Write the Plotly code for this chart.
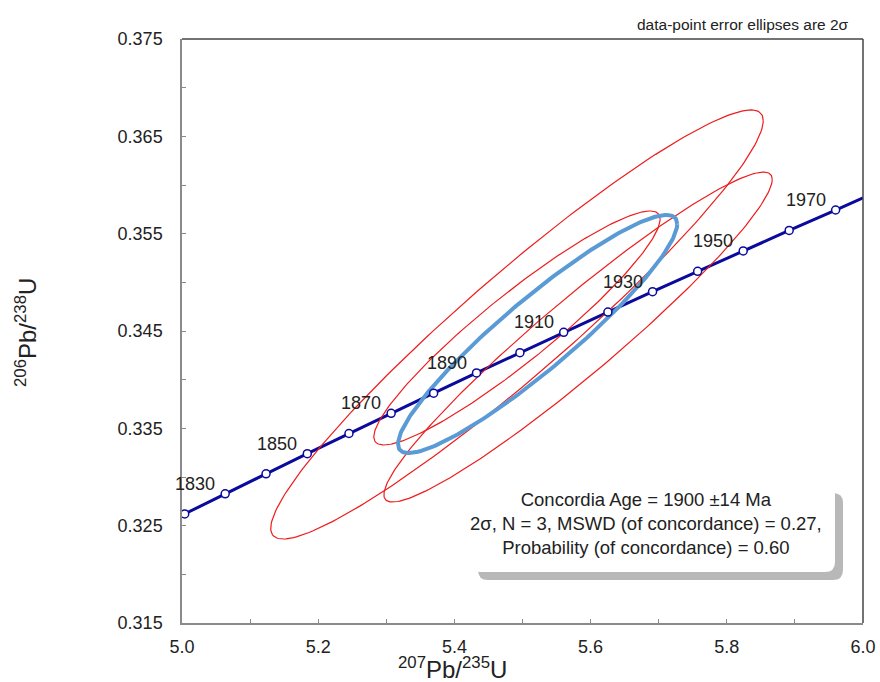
import numpy as np
import plotly.graph_objects as go

# ---------------- data ----------------
# Concordia curve points (ages in Ma)
ages = [1820, 1830, 1840, 1850, 1860, 1870, 1880, 1890, 1900, 1910,
        1920, 1930, 1940, 1950, 1960, 1970]
conc_x = [5.0040, 5.0634, 5.1234, 5.1840, 5.2452, 5.3071, 5.3695, 5.4325,
          5.4962, 5.5605, 5.6254, 5.6910, 5.7572, 5.8241, 5.8916, 5.9598]
conc_y = [0.32621, 0.32827, 0.33033, 0.33240, 0.33447, 0.33654, 0.33861, 0.34069,
          0.34277, 0.34486, 0.34695, 0.34904, 0.35113, 0.35323, 0.35533, 0.35743]
# curve ends at the axis edges
line_x = [5.0] + conc_x + [6.0]
line_y = [0.32607] + conc_y + [0.35867]

label_ages = [1830, 1850, 1870, 1890, 1910, 1930, 1950, 1970]

# data-point error ellipses (2 sigma): centre, x half-extent, y half-extent, correlation
ell_cx = [5.4919, 5.5816, 5.4919]
ell_cy = [0.34567, 0.34438, 0.34531]
ell_ax = [0.3616, 0.2851, 0.2102]
ell_ay = [0.02204, 0.01695, 0.01202]
ell_rho = [0.950, 0.955, 0.930]

# concordia age ellipse
age_cx, age_cy, age_ax, age_ay, age_rho = 5.5222, 0.34469, 0.2050, 0.01223, 0.924

x_range = [5.0, 6.0]
y_range = [0.315, 0.375]

box_lines = ["Concordia Age = 1900 \u00b114 Ma",
             "2\u03c3, N = 3, MSWD (of concordance) = 0.27,",
             "Probability (of concordance) = 0.60"]
note = "data-point error ellipses are 2\u03c3"

FONT = "Liberation Sans, Arial, sans-serif"
TXT = "#222222"


def ellipse(cx, cy, ax, ay, rho, n=240):
    t = np.linspace(0, 2 * np.pi, n)
    x = cx + ax * np.cos(t)
    y = cy + ay * (rho * np.cos(t) + np.sqrt(1 - rho ** 2) * np.sin(t))
    return x, y


fig = go.Figure()

# concordia line
fig.add_trace(go.Scatter(x=line_x, y=line_y, mode="lines",
                         line=dict(color="#0a0a9c", width=3),
                         hoverinfo="skip", showlegend=False))

for i in range(len(ell_cx)):
    ex, ey = ellipse(ell_cx[i], ell_cy[i], ell_ax[i], ell_ay[i], ell_rho[i])
    fig.add_trace(go.Scatter(x=ex, y=ey, mode="lines",
                             line=dict(color="#ee1c1c", width=1.2),
                             hoverinfo="skip", showlegend=False))

ex, ey = ellipse(age_cx, age_cy, age_ax, age_ay, age_rho)
fig.add_trace(go.Scatter(x=ex, y=ey, mode="lines",
                         line=dict(color="#5b9bd5", width=4),
                         hoverinfo="skip", showlegend=False))

# age markers
fig.add_trace(go.Scatter(x=conc_x, y=conc_y, mode="markers", cliponaxis=False,
                         marker=dict(symbol="circle", size=8, color="white",
                                     line=dict(color="#0a0a9c", width=1.5)),
                         hoverinfo="skip", showlegend=False))

annotations = []
for a in label_ages:
    k = ages.index(a)
    annotations.append(dict(x=conc_x[k], y=conc_y[k], xref="x", yref="y",
                            text=str(a), showarrow=False,
                            xanchor="right", yanchor="middle",
                            xshift=-8, yshift=10,
                            font=dict(family=FONT, size=18, color=TXT)))

W, H = 880, 682
L, R, T, B = 182, 17, 39, 59
pw, ph = W - L - R, H - T - B


def px(xp):
    return (xp - L) / pw


def py(yp):
    return (H - B - yp) / ph


# axis titles
annotations.append(dict(x=px(452), y=py(668), xref="paper", yref="paper",
                        text="<sup>207</sup>Pb/<sup>235</sup>U", showarrow=False,
                        xanchor="center", yanchor="middle", borderpad=0,
                        font=dict(family=FONT, size=24, color=TXT)))
annotations.append(dict(x=px(26), y=py(333), xref="paper", yref="paper",
                        text="<sup>206</sup>Pb/<sup>238</sup>U", showarrow=False,
                        textangle=-90, xanchor="center", yanchor="middle",
                        font=dict(family=FONT, size=24, color=TXT)))
# note
annotations.append(dict(x=px(851), y=py(24), xref="paper", yref="paper",
                        text=note, showarrow=False,
                        xanchor="right", yanchor="middle",
                        font=dict(family=FONT, size=15.5, color=TXT)))
# box text
annotations.append(dict(x=px(646), y=py(523), xref="paper", yref="paper",
                        text="<br>".join(box_lines), showarrow=False,
                        xanchor="center", yanchor="middle", align="center",
                        font=dict(family=FONT, size=18.5, color=TXT)))


def rrect(x0, y0, x1, y1, r):
    X0, X1 = px(x0), px(x1)
    Y0, Y1 = py(y0), py(y1)
    rx, ry = r / pw, r / ph
    return (f"M {X0+rx},{Y0} L {X1-rx},{Y0} Q {X1},{Y0} {X1},{Y0-ry} "
            f"L {X1},{Y1+ry} Q {X1},{Y1} {X1-rx},{Y1} "
            f"L {X0+rx},{Y1} Q {X0},{Y1} {X0},{Y1+ry} "
            f"L {X0},{Y0-ry} Q {X0},{Y0} {X0+rx},{Y0} Z")


shapes = [
    dict(type="path", xref="paper", yref="paper", layer="above",
         path=rrect(478, 493, 843, 580, 10), fillcolor="#b8b8b8",
         line=dict(width=0)),
    dict(type="path", xref="paper", yref="paper", layer="above",
         path=rrect(470, 485, 835, 572, 10), fillcolor="white",
         line=dict(width=0)),
    # top and right frame lines (darker)
    dict(type="line", xref="paper", yref="paper", x0=0, x1=1, y0=1, y1=1,
         line=dict(color="#444444", width=1.5)),
    dict(type="line", xref="paper", yref="paper", x0=1, x1=1, y0=0, y1=1,
         line=dict(color="#444444", width=1.5)),
]

axis_common = dict(showgrid=False, zeroline=False, showline=True, automargin=False,
                   linecolor="#8a8a8a", linewidth=1.5, mirror=False,
                   ticks="inside", ticklen=4, tickcolor="#8a8a8a", tickwidth=1,
                   tickfont=dict(family=FONT, size=18, color=TXT))

fig.update_layout(
    width=W, height=H,
    margin=dict(l=L, r=R, t=T, b=B, pad=0, autoexpand=False),
    paper_bgcolor="white", plot_bgcolor="white",
    xaxis=dict(range=x_range, tick0=5.0, dtick=0.2, tickformat=".1f",
               minor=dict(dtick=0.1, ticks="inside", ticklen=4, tickcolor="#8a8a8a"),
               ticklabelstandoff=7, **axis_common),
    yaxis=dict(range=y_range, tick0=0.315, dtick=0.01, tickformat=".3f",
               minor=dict(dtick=0.005, ticks="inside", ticklen=4, tickcolor="#8a8a8a"),
               ticklabelstandoff=14, **axis_common),
    annotations=annotations,
    shapes=shapes,
    showlegend=False,
)

fig.write_html("out.html")
